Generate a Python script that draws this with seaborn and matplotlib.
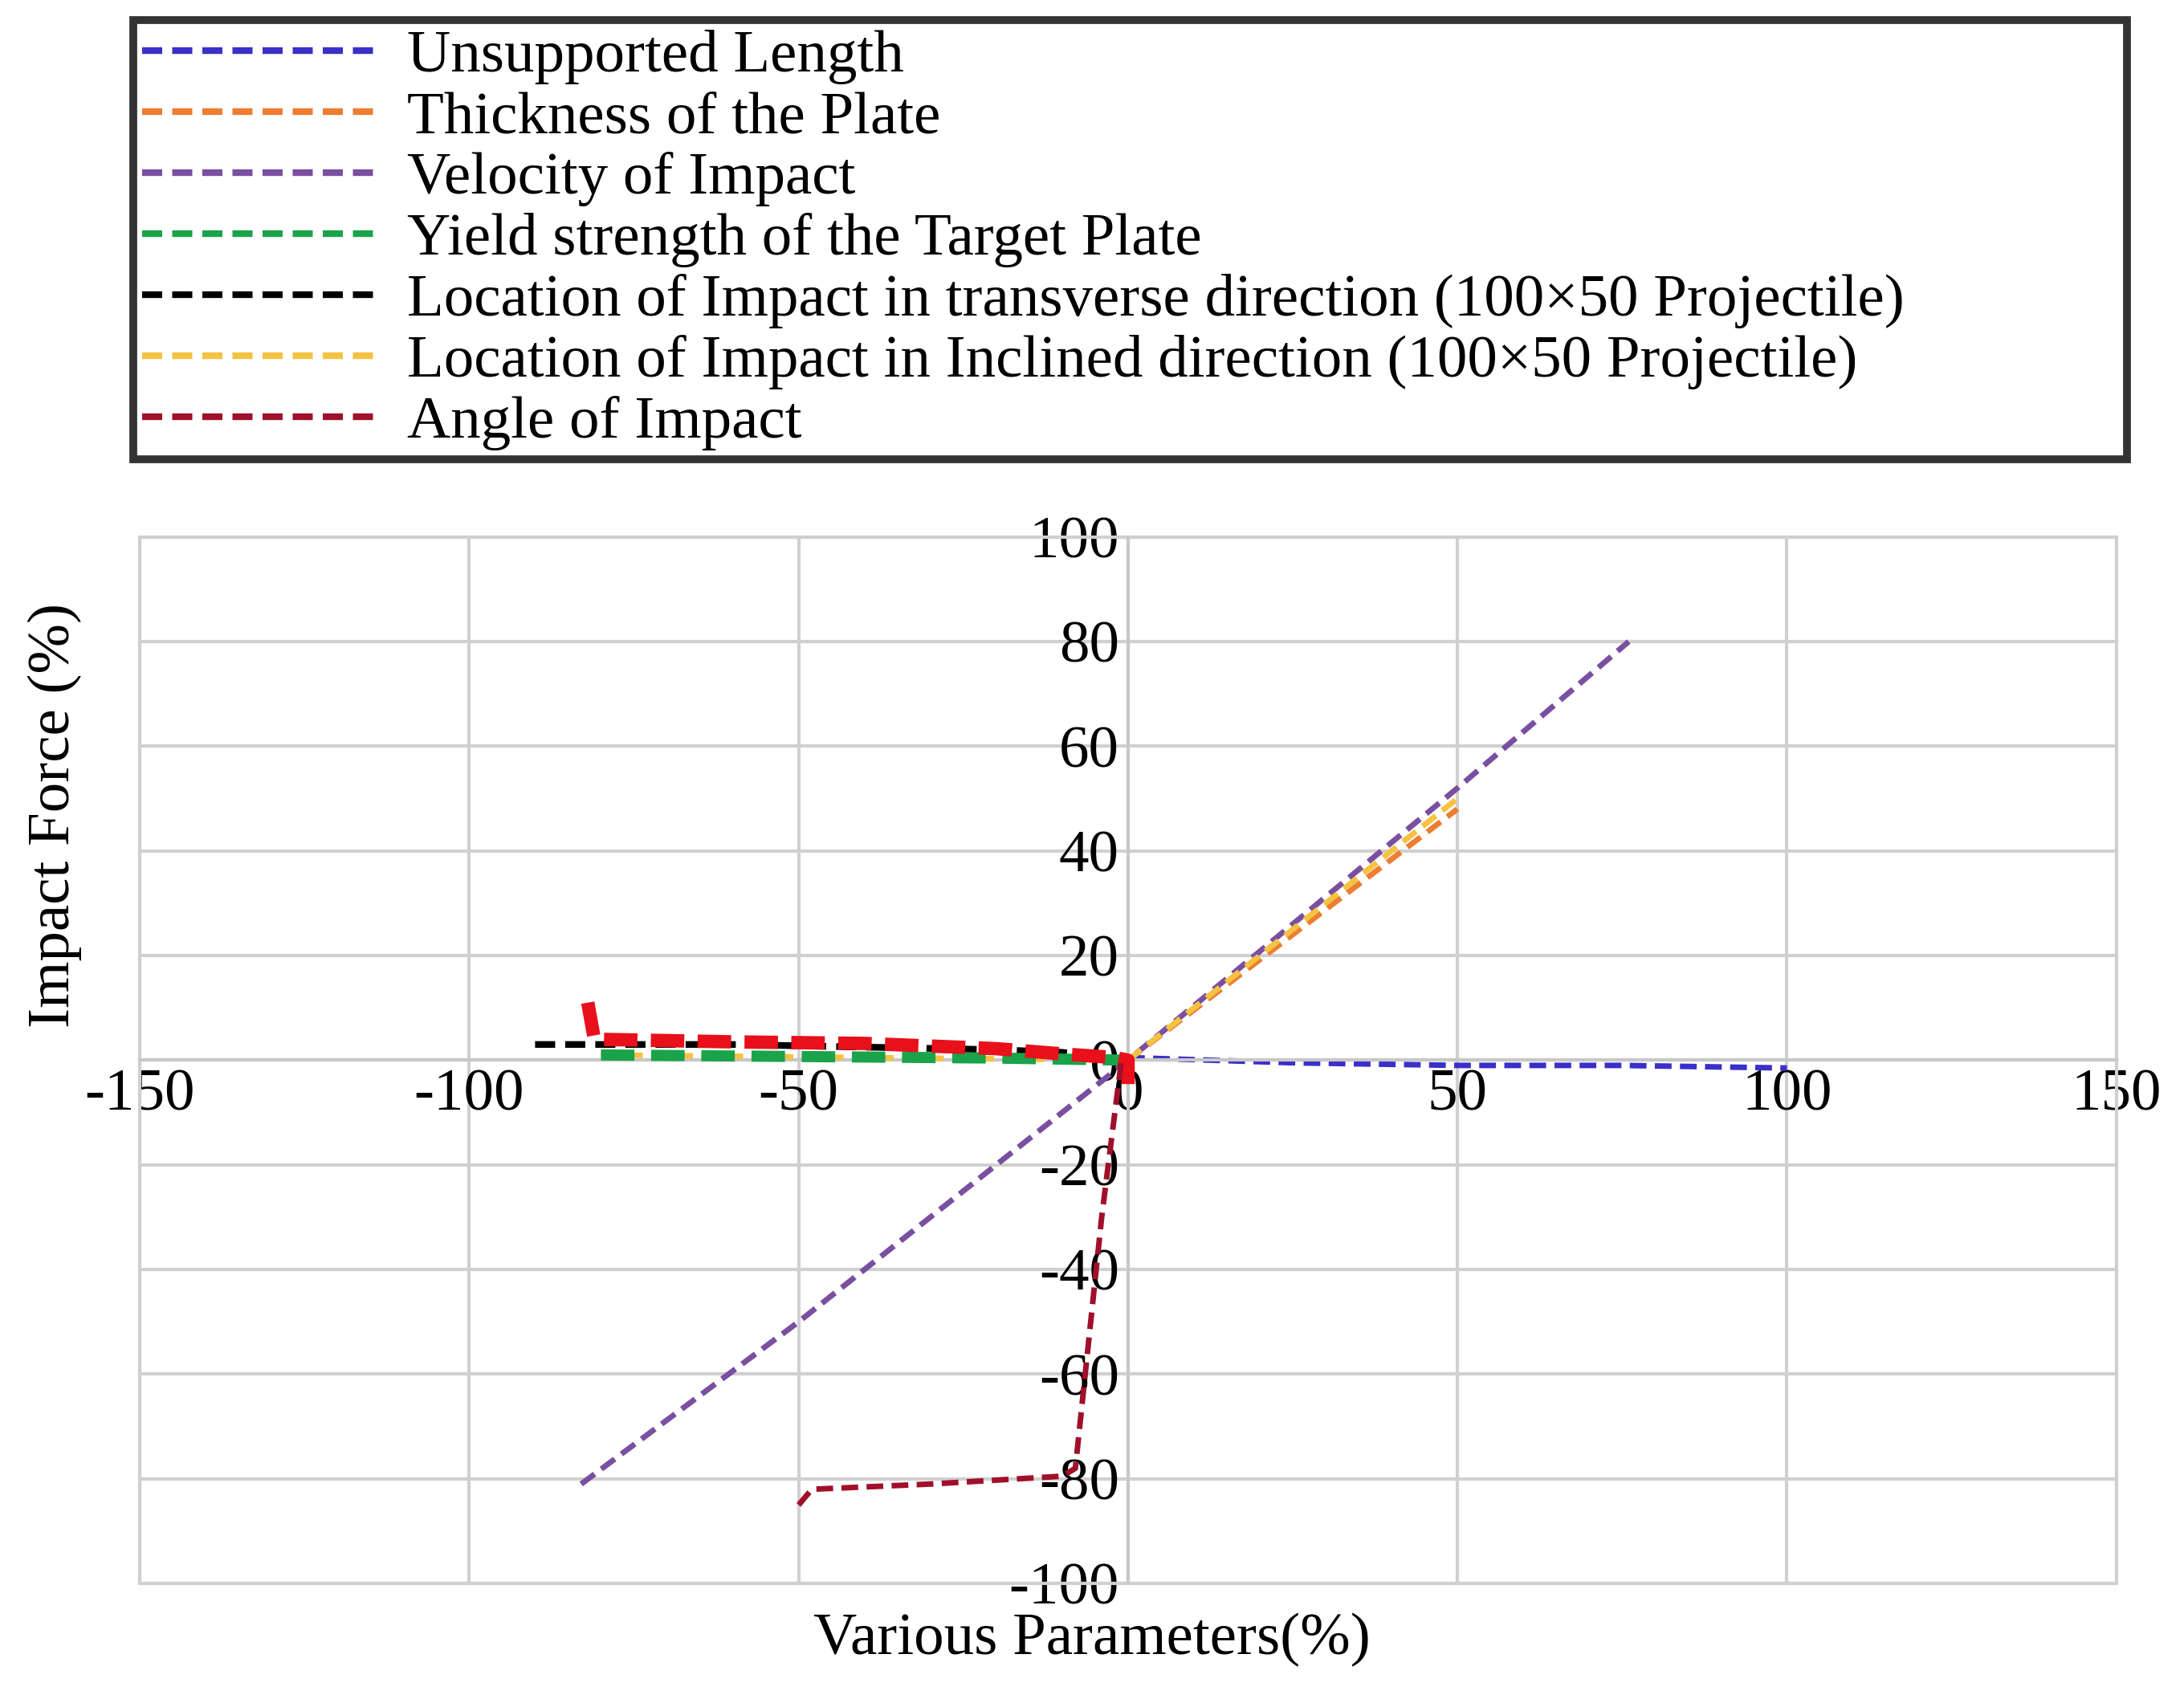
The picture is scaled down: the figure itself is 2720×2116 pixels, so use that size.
import matplotlib
matplotlib.use("Agg")
import matplotlib.pyplot as plt
import seaborn as sns
import pandas as pd
from matplotlib.patches import Rectangle

sns.set_style("white")
plt.rcParams['font.family'] = ['Liberation Serif', 'DejaVu Serif']
plt.rcParams['axes.unicode_minus'] = False
plt.rcParams['text.color'] = 'black'
plt.rcParams['xtick.color'] = 'black'
plt.rcParams['ytick.color'] = 'black'

labels = ["Unsupported Length", "Thickness of the Plate", "Velocity of Impact",
          "Yield strength of the Target Plate",
          "Location of Impact in transverse direction (100×50 Projectile)",
          "Location of Impact in Inclined direction (100×50 Projectile)",
          "Angle of Impact"]
colors = ["#3b2fc9", "#ed7d31", "#7a4fa0", "#1aa34a", "#000000", "#f5c242", "#a0102a"]
widths = [2.5, 2.5, 2.5, 5, 3, 2.5, 2.5]
zorders = [2, 2, 2, 4, 2, 3, 5]

ul_x = [0, 25, 50, 75, 100]; ul_y = [0.5, -0.5, -1, -1, -1.5]
th_x = [0, 25, 50]; th_y = [0, 24, 48]
ve_x = [-83, -50, 0, 50, 76]; ve_y = [-81, -50, 0, 52, 80]
ys_x = [-80, -60, -40, -20, 0]; ys_y = [1, 0.8, 0.6, 0.4, 0]
lt_x = [-90, -80, -60, -40, -20, -10, 0]; lt_y = [3, 3, 3, 2.5, 2, 1.5, 0]
li_x = [-80, 0, 25, 50]; li_y = [1, 0, 25, 50]
an_x = [-50, -48, -30, -10, -8, -4, -1]; an_y = [-85, -82, -81, -79.5, -78, -30, 0]
an2_x = [-82, -81, -60, -40, -20, -10, -2, 0, 0]; an2_y = [11, 4, 3.5, 3.2, 2.2, 1.2, 0.5, 0, -5]

xs = [ul_x, th_x, ve_x, ys_x, lt_x, li_x, an_x]
ys = [ul_y, th_y, ve_y, ys_y, lt_y, li_y, an_y]

fig = plt.figure(figsize=(13.6, 10.58), dpi=200)
ax = fig.add_axes([0.064, 0.068, 0.905, 0.616])

for lab, c, x, y, w, z in zip(labels, colors, xs, ys, widths, zorders):
    df = pd.DataFrame({"x": x, "y": y})
    sns.lineplot(data=df, x="x", y="y", ax=ax, color=c, linestyle=(0, (3, 1.5)),
                 linewidth=w, label=lab, legend=False, sort=False, estimator=None, zorder=z)
sns.lineplot(data=pd.DataFrame({"x": an2_x, "y": an2_y}), x="x", y="y", ax=ax,
             color="#e8101a", linestyle=(0, (2.5, 1)), linewidth=6, legend=False,
             sort=False, estimator=None, zorder=4.5)

ax.set_xlim(-150, 150); ax.set_ylim(-100, 100)
ax.set_xticks(range(-150, 151, 50)); ax.set_yticks(range(-100, 101, 20))
ax.grid(True, color="#d0d0d0", linewidth=1.5)
ax.spines['left'].set_position(('data', 0)); ax.spines['bottom'].set_position(('data', 0))
ax.spines['top'].set_visible(False); ax.spines['right'].set_visible(False)
for s in ['left', 'bottom']:
    ax.spines[s].set_color("#c8c8c8"); ax.spines[s].set_linewidth(1.5)
ax.add_patch(Rectangle((0, 0), 1, 1, transform=ax.transAxes, fill=False,
                       edgecolor="#d0d0d0", linewidth=1.5, clip_on=False))
ax.tick_params(labelsize=27, length=0, pad=4)
ax.set_xlabel(""); ax.set_ylabel("")
fig.text(0.5, 0.035, "Various Parameters(%)", ha="center", va="center", fontsize=27)
fig.text(0.025, 0.52, "Impact Force (%)", ha="center", va="center", rotation=90, fontsize=27)

h, l = ax.get_legend_handles_labels()
leg = fig.legend(h[:7], l[:7], loc="upper left", bbox_to_anchor=(0.061, 0.988, 0.913, 0.0),
                 mode="expand", fontsize=27, handlelength=4.0, labelspacing=0.1,
                 borderpad=0.15, handletextpad=0.4, frameon=True, fancybox=False,
                 borderaxespad=0)
leg.get_frame().set_edgecolor("black"); leg.get_frame().set_linewidth(3.5)
for line in leg.get_lines():
    line.set_linewidth(3)

fig.savefig("out.png", dpi=200, facecolor="white")
